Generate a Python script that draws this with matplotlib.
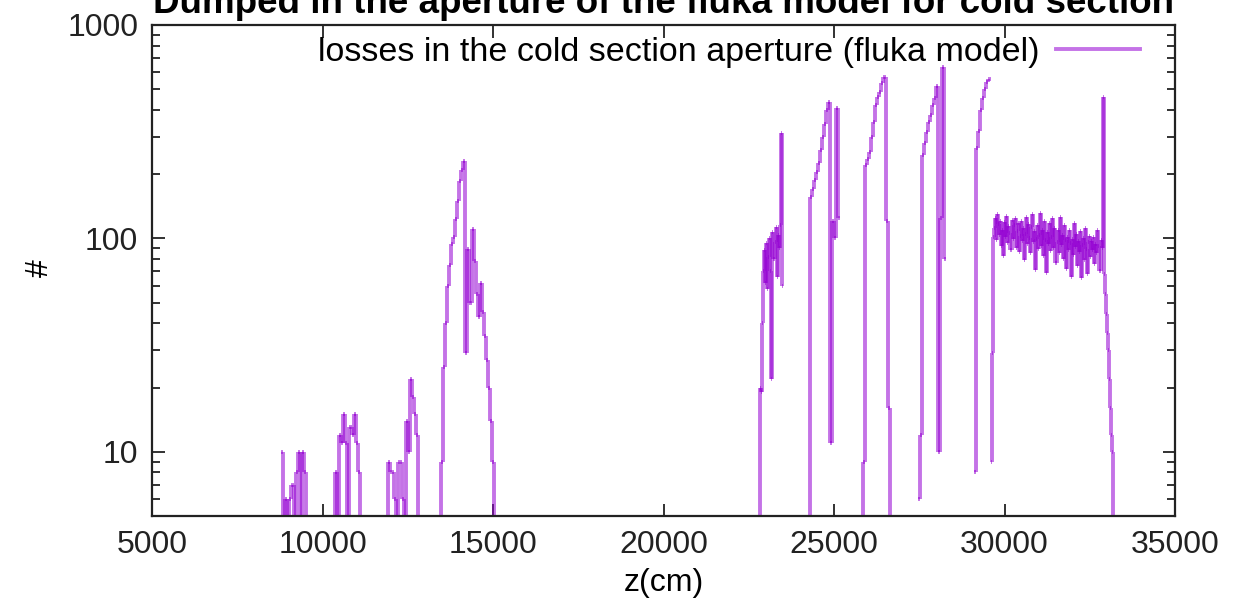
import numpy as np
import matplotlib
matplotlib.use("Agg")
import matplotlib.pyplot as plt
from matplotlib.collections import LineCollection
from matplotlib.lines import Line2D
from matplotlib.ticker import LogLocator, NullFormatter

# histogram bin widths along z (cm)
bin_width = 60
bin_width_fine = 30

# loss clusters: position of first bin (cm) and counts per bin
# (counts below 5 fall under the axis, clusters are separated by empty bins)
start_a = 8820
n_a = [10, 2, 6, 3, 6, 7, 3, 8, 10, 4, 10, 8, 2]

start_b = 10340
n_b = [2, 8, 3, 12, 11, 15, 11, 4, 13, 12, 15, 11, 8, 2]

start_c = 11880
n_c = [2, 9, 8, 8, 6, 2, 9, 9, 6, 3, 14, 10, 22, 18, 15, 12, 2]

start_d = 13440
n_d = [2, 9, 25, 40, 60, 75, 94, 102, 123, 150, 185, 210, 230, 29, 89, 50,
       111, 78, 55, 43, 62, 45, 35, 27, 20, 14, 9, 2]

# fine bins
start_e = 22820
n_e = [2, 20, 19, 40, 70, 88, 62, 95, 58, 82, 100, 70, 22, 107, 80, 96, 113,
       66, 104, 90, 116, 311, 60]

start_f = 24260
n_f = [2, 156, 170, 187, 205, 225, 260, 300, 345, 400, 435, 11, 120, 100, 410, 125]

start_g = 25820
n_g = [2, 9, 220, 235, 253, 300, 350, 420, 460, 485, 535, 570, 120, 16, 2]

start_h = 27480
n_h = [6, 12, 245, 280, 315, 350, 380, 420, 455, 520, 10, 125, 635, 80]

start_i = 29140
n_i = [8, 265, 320, 400, 455, 500, 540, 560]

# fine bins
start_j = 29620
n_j = [9, 29, 102,
       112, 125, 98, 130, 117, 104, 121, 92, 110, 83, 119, 101, 127, 95, 114,
       106, 88, 122, 99, 116, 124, 90, 108, 118, 86, 103, 121, 97, 112, 79,
       105, 126, 94, 117, 100, 85, 113, 130, 96, 108, 71, 99, 116, 89, 104,
       132, 92, 110, 83, 120, 98, 69, 107, 94, 118, 87, 101, 124, 90, 112,
       77, 96, 109, 85, 126, 93, 104, 80, 115, 98, 72, 102, 88, 110, 95, 66,
       99, 84, 118, 91, 105, 74, 97, 86, 108, 65, 93, 100, 79, 112, 89, 68,
       96, 103, 82, 97, 88, 101, 76, 94, 85, 109, 92, 70, 98, 90,
       460, 68, 55, 44, 36, 30, 22, 16, 12, 10, 2]

clusters = [(start_a, n_a, bin_width), (start_b, n_b, bin_width),
            (start_c, n_c, bin_width), (start_d, n_d, bin_width),
            (start_e, n_e, bin_width_fine), (start_f, n_f, bin_width),
            (start_g, n_g, bin_width), (start_h, n_h, bin_width),
            (start_i, n_i, bin_width), (start_j, n_j, bin_width_fine)]

x_ticks = [5000, 10000, 15000, 20000, 25000, 30000, 35000]
y_ticks = [10, 100, 1000]

line_color = '#9400D3'
fs = 23


def step_segments(start, counts, width):
    """histogram steps of one cluster as separate segments"""
    z = start + width * np.arange(len(counts))
    v = np.asarray(counts, dtype=float)
    half = width / 2
    segs = []
    for i in range(len(v)):
        segs.append([(z[i] - half, v[i]), (z[i] + half, v[i])])
        if i + 1 < len(v):
            segs.append([(z[i] + half, v[i]), (z[i] + half, v[i + 1])])
    return segs


plt.rcParams['font.family'] = ['Liberation Sans', 'DejaVu Sans']

fig = plt.figure(figsize=(12.34, 6.02), dpi=100)
ax = fig.add_axes([0.1232, 0.1429, 0.829, 0.8156])

segments = []
for start, counts, width in clusters:
    segments += step_segments(start, counts, width)

lc = LineCollection(segments, colors=line_color, alpha=0.55, linewidths=2.8)
ax.add_collection(lc)

ax.set_yscale('log')
ax.set_xlim(5000, 35000)
ax.set_ylim(5, 1000)

ax.set_xticks(x_ticks)
ax.set_xticklabels([str(t) for t in x_ticks])
ax.set_yticks(y_ticks)
ax.set_yticklabels([str(t) for t in y_ticks])
ax.yaxis.set_minor_locator(LogLocator(base=10, subs=np.arange(2, 10)))
ax.yaxis.set_minor_formatter(NullFormatter())

ax.tick_params(which='both', direction='in', top=True, right=True,
               labelsize=fs, colors='#222222', width=1.3)
ax.tick_params(which='major', length=9, pad=10)
ax.tick_params(which='minor', length=5.5)
for sp in ax.spines.values():
    sp.set_linewidth(1.6)
    sp.set_color('#222222')

ax.set_xlabel('z(cm)', fontsize=fs, labelpad=6)
ax.set_ylabel('#', fontsize=fs)
ax.yaxis.set_label_coords(-0.095, 0.505)

fig.text(0.5375, 1 - 13 / 602, 'Dumped in the aperture of the fluka model for cold section',
         ha='center', va='baseline', fontsize=26.5, fontweight='bold')

handle = Line2D([], [], color=line_color, alpha=0.55, lw=2.8)
ax.legend([handle], ['losses in the cold section aperture (fluka model)'],
          loc='upper right', bbox_to_anchor=(0.972, 0.99), frameon=False,
          markerfirst=False, fontsize=24.5, handlelength=2.45, handletextpad=0.5,
          borderaxespad=0, borderpad=0.2)

fig.savefig('out.png', dpi=100)
